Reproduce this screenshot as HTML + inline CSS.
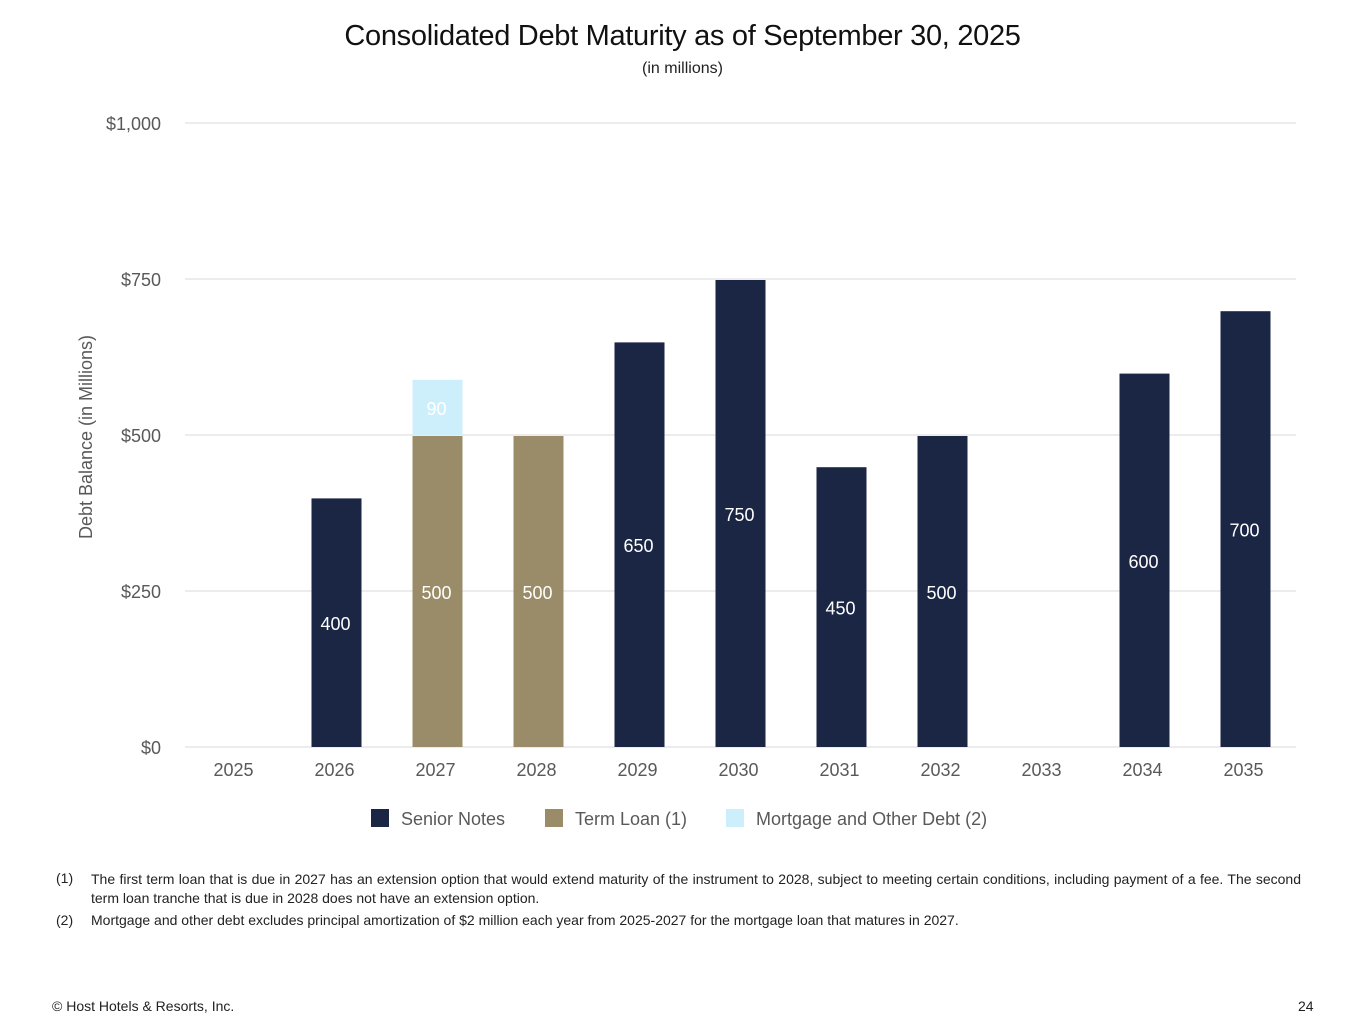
<!DOCTYPE html>
<html><head><meta charset="utf-8"><style>
body{margin:0;width:1365px;height:1024px;background:#fff;font-family:"Liberation Sans",sans-serif;position:relative;overflow:hidden}
.t{position:absolute;white-space:nowrap}
.fn{position:absolute;font-size:14px;color:#222;left:56px}
</style></head><body>
<div class="t" style="left:0;width:1365px;text-align:center;top:20px;font-size:29px;color:#111;letter-spacing:-0.3px">Consolidated Debt Maturity as of September 30, 2025</div>
<div class="t" style="left:0;width:1365px;text-align:center;top:60px;font-size:16px;color:#222">(in millions)</div>
<svg id="chart" width="1365" height="850" style="position:absolute;left:0;top:0"></svg>
<div class="fn" style="top:870px">(1)</div>
<div class="fn" style="top:870px;left:91px;width:1210px;line-height:19px;white-space:normal;text-align:justify">The first term loan that is due in 2027 has an extension option that would extend maturity of the instrument to 2028, subject to meeting certain conditions, including payment of a fee. The second term loan tranche that is due in 2028 does not have an extension option.</div>
<div class="fn" style="top:912px">(2)</div>
<div class="fn" style="top:912px;left:91px">Mortgage and other debt excludes principal amortization of $2 million each year from 2025-2027 for the mortgage loan that matures in 2027.</div>
<div class="t" style="left:52px;top:998px;font-size:14px;color:#222">© Host Hotels &amp; Resorts, Inc.</div>
<div class="t" style="left:1298px;top:998px;font-size:14px;color:#222">24</div>
<script>
const years=["2025","2026","2027","2028","2029","2030","2031","2032","2033","2034","2035"];
const seniorNotes=[0,400,0,0,650,750,450,500,0,600,700];
const termLoan=[0,0,500,500,0,0,0,0,0,0,0];
const mortgage=[0,0,90,0,0,0,0,0,0,0,0];
const yTicks=[0,250,500,750,1000];
const yTickLabels=["$0","$250","$500","$750","$1,000"];
const series=[{name:"Senior Notes",vals:seniorNotes,color:"#1a2644",text:"#fff",key:"senior-notes"},
{name:"Term Loan (1)",vals:termLoan,color:"#9a8c68",text:"#fff",key:"term-loan"},
{name:"Mortgage and Other Debt (2)",vals:mortgage,color:"#cdeffc",text:"#fff",key:"mortgage"}];
const NS="http://www.w3.org/2000/svg",svg=document.getElementById("chart");
const x0=185,x1=1296,y0=747,yTop=123,ymax=1000;
const bw=(x1-x0)/years.length;
const y=v=>y0-(v/ymax)*(y0-yTop);
const xc=i=>x0+bw*(i+0.5);
function mk(t,a,txt){const e=document.createElementNS(NS,t);for(const k in a)e.setAttribute(k,a[k]);if(txt!=null)e.textContent=txt;svg.appendChild(e);return e;}
yTicks.forEach((v,i)=>{
 const g=mk("line",{x1:x0,x2:x1,y1:y(v),y2:y(v),stroke:"#d9d9d9","stroke-width":1});
 
 
 const t=mk("text",{x:161,y:y(v)+7,"text-anchor":"end","font-size":18,fill:"#595959","font-family":"Liberation Sans"},yTickLabels[i]);
 
 
});
years.forEach((yr,i)=>{
 const t=mk("text",{x:xc(i)-2,y:776,"text-anchor":"middle","font-size":18,fill:"#595959","font-family":"Liberation Sans"},yr);
 
 
 let base=0;
 series.forEach(s=>{
  const v=s.vals[i]; if(!v)return;
  const r=mk("rect",{x:xc(i)-25,y:y(base+v)+1,width:50,height:y(base)-y(base+v)-1,fill:s.color});
  
  
  const l=mk("text",{x:xc(i)-1,y:(y(base)+y(base+v))/2+8,"text-anchor":"middle","font-size":18,fill:s.text,"font-family":"Liberation Sans"},String(v));
  
  
  base+=v;
 });
});
const ax=mk("text",{x:0,y:0,transform:"translate(92,437) rotate(-90)","text-anchor":"middle","font-size":18,fill:"#595959","font-family":"Liberation Sans"},"Debt Balance (in Millions)");


const legX=[371,545,726];
series.forEach((s,i)=>{
 const r=mk("rect",{x:legX[i],y:809,width:18,height:18,fill:s.color});
 
 
 const t=mk("text",{x:legX[i]+30,y:825,"font-size":18,fill:"#595959","font-family":"Liberation Sans"},s.name);
 
 
});
</script>
</body></html>
